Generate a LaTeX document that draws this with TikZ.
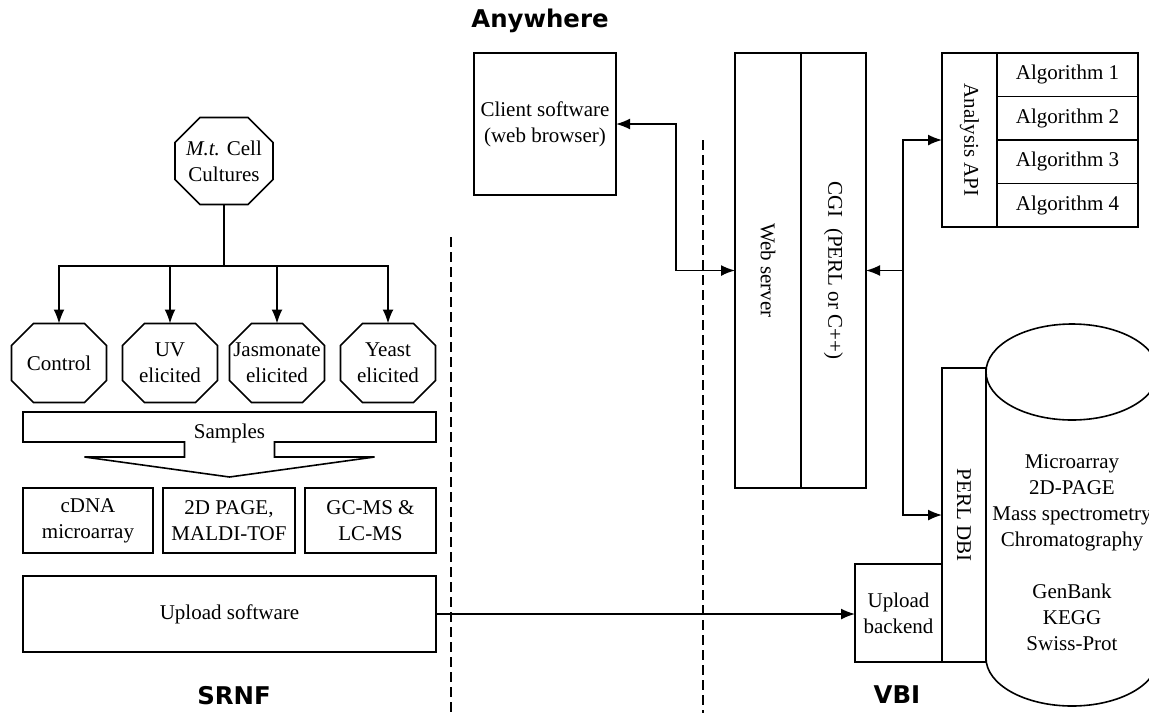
\documentclass[tikz,border=0pt]{standalone}
\usepackage{fontspec}
\setmainfont{Liberation Serif}
\newfontfamily\sitefont{DejaVu Sans}
\usepackage{graphicx}
\usetikzlibrary{arrows.meta, positioning}
\tikzset{>={Latex[length=14pt,width=11pt]}}
\tikzset{
  box/.style = {draw, line width=1.6pt, inner sep=0pt, outer sep=0pt, align=center},
  cond/.style = {inner sep=0pt, outer sep=0pt, align=center,
                 minimum width=95pt, minimum height=79pt},
  site/.style = {font=\fontsize{24.4}{28}\selectfont\sitefont\bfseries},
  divider/.style = {line width=1.3pt, dash pattern=on 10pt off 5pt},
  link/.style = {line width=1.6pt}
}
% octagon round a node, corners cut by #2
\newcommand{\octagon}[2]{%
  \draw[link] ([xshift=#2]#1.north west) -- ([xshift=-#2]#1.north east)
    -- ([yshift=-#2]#1.north east) -- ([yshift=#2]#1.south east)
    -- ([xshift=-#2]#1.south east) -- ([xshift=#2]#1.south west)
    -- ([yshift=#2]#1.south west) -- ([yshift=-#2]#1.north west) -- cycle;}

\begin{document}
\begin{tikzpicture}[x=1pt, y=-1pt, every node/.style={font=\fontsize{21}{26}\selectfont}]
\useasboundingbox (0,0) rectangle (1149,713);

% SRNF: cultures, treatments and measurement
\node[cond, minimum width=98pt, minimum height=87pt] (mt) at (224,161) {\textit{M.t.} Cell\\Cultures};
\node[cond] (ctrl) at (59,363) {Control};
\node[cond] (uv) at (170,363) {UV\\elicited};
\node[cond] (jas) at (277,363) {Jasmonate\\elicited};
\node[cond] (yst) at (388,363) {Yeast\\elicited};
\octagon{mt}{25pt}
\foreach \n in {ctrl,uv,jas,yst} {\octagon{\n}{22pt}}

\coordinate (fork) at (224,266);
\draw[link] (mt.south) -- (fork);
\foreach \n in {ctrl,uv,jas,yst}
  \draw[link,->] (fork) -| (\n.north);

% samples bar with its wide arrow
\node[box, draw=none, minimum width=413pt, minimum height=30pt] (smp) at (229.5,427) {\raisebox{-11pt}[0pt][0pt]{Samples}};
\draw[link] ([xshift=-45pt]smp.south) -- (smp.south west) -- (smp.north west) -- (smp.north east)
  -- (smp.south east) -- ([xshift=45pt]smp.south) -- ++(0,15) -- ++(100,0) -- ++(-145,20)
  -- ++(-145,-20) -- ++(100,0) -- cycle;

\node[box, minimum width=130pt, minimum height=65pt] (cdna) at (88,520.5) {cDNA\\microarray};
\node[box, minimum width=132pt, minimum height=65pt] (page) at (229,520.5) {2D PAGE,\\MALDI-TOF};
\node[box, minimum width=131pt, minimum height=65pt] (gcms) at (370.5,520.5) {GC-MS \&\\LC-MS};
\node[box, minimum width=413pt, minimum height=76pt] (up) at (229.5,614) {Upload software};
\node[site] (srnf) at (234,696) {SRNF};

\draw[divider] (451,237) -- (451,713);

% Anywhere
\node[site] (any) at (540,21) {Anywhere};
\node[box, minimum width=142pt, minimum height=142pt] (client) at (545,124) {Client software\\(web browser)};
\draw[divider] (703,140) -- (703,713);

% VBI: servers, analysis and database
\node[box, minimum width=66pt, minimum height=435pt] (ws) at (768,270.5) {\rotatebox{-90}{Web server}};
\node[box, minimum width=65pt, minimum height=435pt, right=0pt of ws] (cgi) {\rotatebox{-90}{CGI\ \ (PERL or C++)}};
\draw[link,<->] (client.east) -- ++(60,0) |- (ws.west);

\node[box, minimum width=55pt, minimum height=174pt] (api) at (969.5,140) {\rotatebox{-90}{Analysis API}};
\node[box, minimum width=141pt, minimum height=43.5pt, anchor=north west] (alg1) at (api.north east) {Algorithm 1};
\node[box, minimum width=141pt, minimum height=43.5pt, below=0pt of alg1] (alg2) {Algorithm 2};
\node[box, minimum width=141pt, minimum height=43.5pt, below=0pt of alg2] (alg3) {Algorithm 3};
\node[box, minimum width=141pt, minimum height=43.5pt, below=0pt of alg3] (alg4) {Algorithm 4};

\node[box, minimum width=44pt, minimum height=294pt] (dbi) at (964,515) {\rotatebox{-90}{PERL DBI}};
\node[box, minimum width=87pt, minimum height=98pt, anchor=south east] (ub) at (dbi.south west) {Upload\\backend};

\coordinate (hub) at (903,270.5);
\draw[link,->] (hub) -- (cgi.east);
\draw[link,->] (hub) |- (api.west);
\draw[link,->] (hub) |- (dbi.west);
\draw[link,->] (up.east) -- (up.east -| ub.west);

% database cylinder
\draw[link] (1072,372) ellipse [x radius=86pt, y radius=48pt];
\draw[link] (986,372) -- (986,658) arc[start angle=180, end angle=360, x radius=86pt, y radius=48pt] -- (1158,372);
\node[align=center] (db) at (1072,553) {Microarray\\2D-PAGE\\Mass spectrometry\\Chromatography\\[26pt]GenBank\\KEGG\\Swiss-Prot};
\node[site] (vbi) at (897,695) {VBI};

\end{tikzpicture}
\end{document}
